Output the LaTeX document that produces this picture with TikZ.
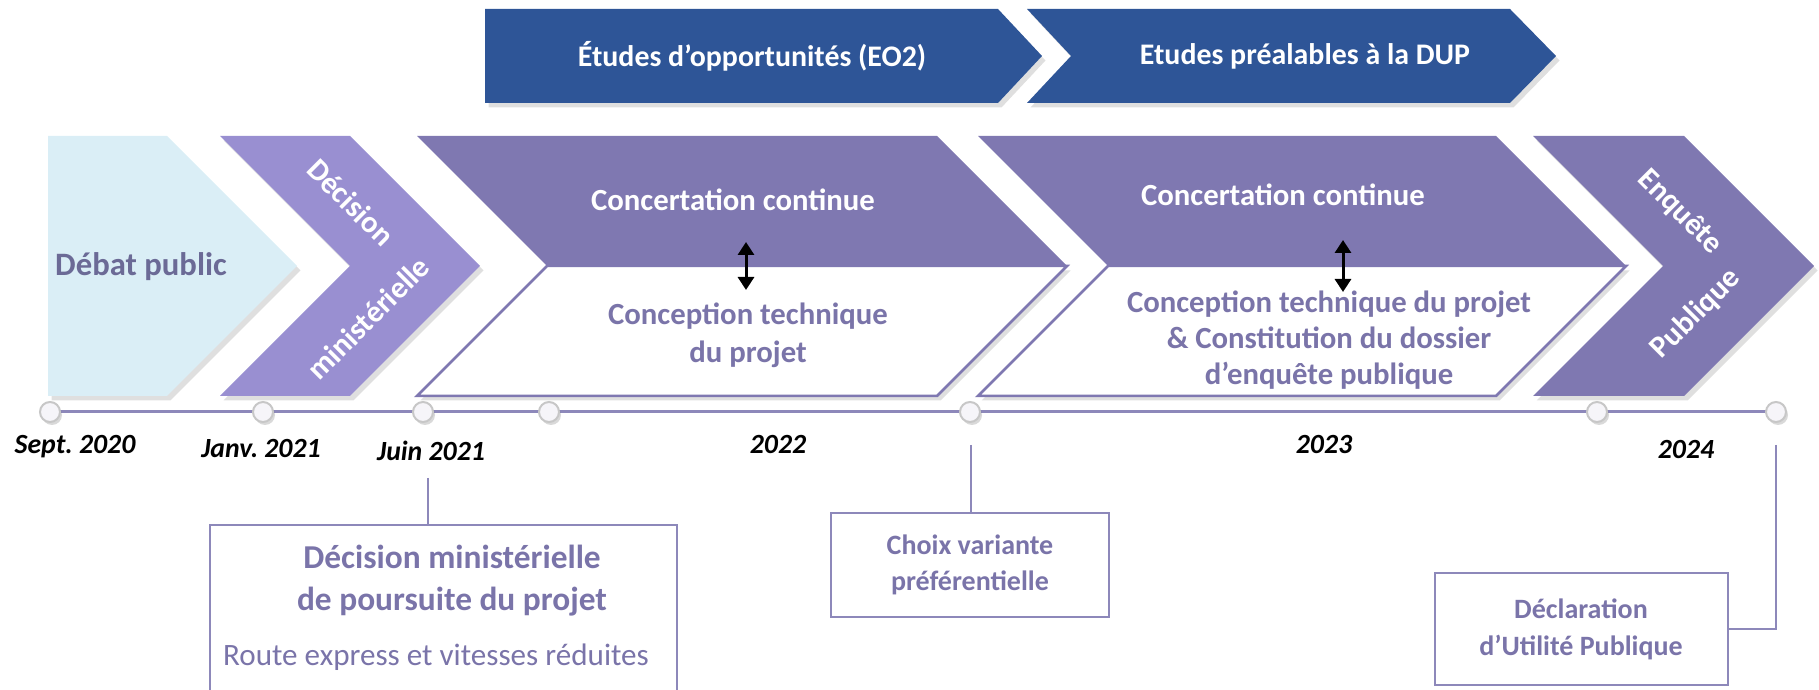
\documentclass[tikz,border=0pt]{standalone}
\usepackage{fontspec}
\setmainfont{Carlito}
\usetikzlibrary{arrows.meta,shadows}

\definecolor{eoblue}{HTML}{2E5597}
\definecolor{debatblue}{HTML}{DAEEF6}
\definecolor{decmauve}{HTML}{998FD1}
\definecolor{phasemauve}{HTML}{7F78B1}
\definecolor{textmauve}{HTML}{7A74A9}
\definecolor{debattext}{HTML}{6B6A96}
\definecolor{linemauve}{HTML}{8D88BA}

\tikzset{
  phaseshadow/.style={drop shadow={shadow xshift=0.35mm,shadow yshift=-0.45mm,opacity=0.25}},
  tick/.style={circle, draw=black!22, fill=linemauve!8, minimum size=2mm, line width=0.2mm,
    drop shadow={shadow xshift=0.2mm,shadow yshift=-0.3mm,opacity=0.3}},
  datelbl/.style={font=\fontsize{7.9}{9}\selectfont\bfseries\itshape},
  whitelbl/.style={text=white, font=\fontsize{8.75}{10}\selectfont\bfseries},
  studylbl/.style={text=white, font=\fontsize{8.5}{10}\selectfont\bfseries},
  eventbox/.style={draw=linemauve, line width=0.2mm, text=textmauve, align=center},
  linkline/.style={draw=linemauve, line width=0.2mm},
  duplex/.style={{Triangle[width=1.6mm,length=1.3mm]}-{Triangle[width=1.6mm,length=1.3mm]}, line width=0.3mm},
}

\begin{document}
\begin{tikzpicture}[x=0.1mm, y=0.1mm]
\tikzstyle{every node}+=[inner sep=0pt]
\useasboundingbox (0,0) rectangle (1819,-690);
\clip (0,0) rectangle (1819,-690);
% top row: studies
\fill [eoblue, phaseshadow] (485,-9) -- (998,-9) -- (1042,-56) -- (998,-103) -- (485,-103) -- cycle;
\draw (752,-56) node (eo2) [studylbl] {Études d’opportunités (EO2)};
\fill [eoblue, phaseshadow] (1027,-9) -- (1510,-9) -- (1556,-56) -- (1510,-103) -- (1027,-103) -- (1071,-56) -- cycle;
\draw (1305,-56) node (dup) [studylbl] {Etudes préalables à la DUP};
% middle row: phases
\fill [debatblue, phaseshadow] (48,-136) -- (167,-136) -- (297,-266) -- (167,-396) -- (48,-396) -- cycle;
\draw (141,-267) node (debat) [text=debattext, font=\fontsize{9.3}{10}\selectfont\bfseries] {Débat public};
\fill [decmauve, phaseshadow] (220,-136) -- (350,-136) -- (480,-266) -- (350,-396) -- (220,-396) -- (350,-266) -- cycle;
\draw (351,-202) node (dec1) [whitelbl, rotate=-45] {Décision};
\draw (368,-318) node (dec2) [whitelbl, rotate=45] {ministérielle};
\filldraw [fill=white, draw=phasemauve, line width=0.25mm, phaseshadow] (547,-266) -- (1067,-266) -- (937,-396) -- (417,-396) -- cycle;
\fill [phasemauve] (417,-136) -- (937,-136) -- (1067,-266) -- (547,-266) -- cycle;
\draw (733,-200) node (conc1) [whitelbl] {Concertation continue};
\draw (748,-335) node (tech1) [text=textmauve, align=center, font=\fontsize{8.75}{10.8}\selectfont\bfseries] {Conception technique\\du projet};
\coordinate (up1) at (746,-242);
\coordinate (dn1) at (746,-290);
\draw [duplex] (up1) -- (dn1);
\filldraw [fill=white, draw=phasemauve, line width=0.25mm, phaseshadow] (1108,-266) -- (1626,-266) -- (1496,-396) -- (978,-396) -- cycle;
\fill [phasemauve] (978,-136) -- (1496,-136) -- (1626,-266) -- (1108,-266) -- cycle;
\draw (1283,-195) node (conc2) [whitelbl] {Concertation continue};
\draw (1329,-340) node (tech2) [text=textmauve, align=center, font=\fontsize{8.75}{10.24}\selectfont\bfseries] {Conception technique du projet\\\& Constitution du dossier\\d’enquête publique};
\coordinate (up2) at (1343,-240);
\coordinate (dn2) at (1343,-292);
\draw [duplex] (up2) -- (dn2);
\fill [phasemauve, phaseshadow] (1533,-136) -- (1684,-136) -- (1814,-266) -- (1684,-396) -- (1533,-396) -- (1663,-266) -- cycle;
\draw (1680,-212) node (enq1) [whitelbl, rotate=-45] {Enquête};
\draw (1696,-314) node (enq2) [whitelbl, rotate=45] {Publique};
% timeline
\foreach \i/\x in {0/50,1/263,2/423,3/549,4/970,5/1597,6/1776}
  \coordinate (p\i) at (\x,-412);
\draw [linemauve, line width=0.3mm] (p0) -- (p6);
\foreach \i in {0,...,6}
  \draw (p\i) node (t\i) [tick] {};
\draw (75,-447) node (sept) [datelbl] {Sept.\ 2020};
\draw (261,-449) node (janv) [datelbl] {Janv.\ 2021};
\draw (431,-451) node (juin) [datelbl] {Juin 2021};
\draw (778,-445) node (y22) [datelbl] {2022};
\draw (1324,-445) node (y23) [datelbl] {2023};
\draw (1686,-450) node (y24) [datelbl] {2024};
% milestones
\draw (443,-625) node (box1) [eventbox, minimum width=46.7mm, minimum height=20mm] {};
\draw (452,-581) node (box1t) [text=textmauve, align=center, font=\fontsize{9.5}{11.95}\selectfont\bfseries] {Décision ministérielle\\de poursuite du projet};
\draw (436,-657) node (box1s) [text=textmauve, font=\fontsize{8.85}{10}\selectfont] {Route express et vitesses réduites};
\coordinate (c1) at (428,-478);
\draw [linkline] (c1) -- (c1 |- box1.north);
\draw (970,-565) node (box2) [eventbox, minimum width=27.8mm, minimum height=10.4mm, font=\fontsize{7.97}{10.24}\selectfont\bfseries] {Choix variante\\préférentielle};
\coordinate (c2) at (971,-445);
\draw [linkline] (c2) -- (c2 |- box2.north);
\draw (1581,-629) node (box3) [eventbox, minimum width=29.3mm, minimum height=11.2mm, font=\fontsize{7.97}{10.5}\selectfont\bfseries] {Déclaration\\d’Utilité Publique};
\coordinate (c3) at (1776,-445);
\draw [linkline] (c3) |- (box3.east);
\end{tikzpicture}
\end{document}
